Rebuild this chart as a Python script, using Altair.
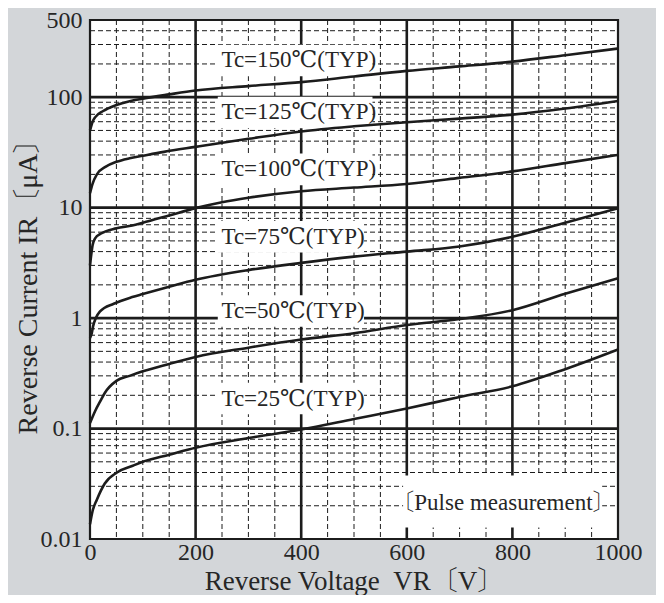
import altair as alt
import pandas as pd

# ---- curve data ----
volt_150 = [0, 5, 10, 25, 50, 75, 100, 150, 200, 300, 400, 500, 600, 700, 800, 900, 1000]
cur_150 = [50, 60, 66, 75, 85, 92, 97, 106, 115, 126, 137, 154, 173, 190, 210, 240, 276]

volt_125 = [0, 5, 13, 30, 50, 75, 100, 140, 200, 300, 400, 500, 600, 700, 800, 900, 1000]
cur_125 = [13.5, 16.5, 20, 23.5, 26, 28, 29.5, 32, 35.5, 42, 49, 54.5, 59.4, 64, 69.5, 79, 92.5]

volt_100 = [0, 5, 10, 20, 50, 80, 100, 150, 200, 250, 300, 400, 500, 600, 700, 800, 900, 1000]
cur_100 = [3.0, 4.6, 5.3, 5.8, 6.5, 6.9, 7.3, 8.5, 9.9, 11.2, 12.3, 14.1, 15.2, 16.4, 18.6, 21.3, 25.3, 30]

volt_75 = [0, 3, 6, 11, 19, 45, 80, 100, 150, 200, 300, 400, 500, 600, 700, 800, 900, 1000]
cur_75 = [0.66, 0.72, 0.85, 1.0, 1.15, 1.35, 1.55, 1.65, 1.92, 2.22, 2.72, 3.16, 3.6, 4.0, 4.45, 5.45, 7.3, 9.9]

volt_50 = [0, 5, 10, 19, 28, 50, 75, 100, 150, 200, 300, 400, 500, 600, 700, 800, 900, 1000]
cur_50 = [0.112, 0.128, 0.145, 0.175, 0.21, 0.27, 0.30, 0.33, 0.385, 0.445, 0.54, 0.64, 0.73, 0.865, 0.98, 1.18, 1.66, 2.3]

volt_25 = [0, 5, 13, 28, 51, 81, 100, 150, 200, 300, 400, 500, 600, 700, 800, 900, 1000]
cur_25 = [0.0136, 0.018, 0.0227, 0.0318, 0.040, 0.046, 0.050, 0.058, 0.067, 0.082, 0.098, 0.122, 0.152, 0.193, 0.241, 0.345, 0.52]

# ---- labels ----
tc_labels = ["Tc=150℃(TYP)", "Tc=125℃(TYP)", "Tc=100℃(TYP)", "Tc=75℃(TYP)", "Tc=50℃(TYP)", "Tc=25℃(TYP)"]
label_volt = [249, 249, 249, 249, 249, 249]
label_cur = [215, 72.8, 22.2, 5.46, 1.16, 0.187]

note_text = ["〔Pulse measurement〕"]
note_volt = [783]
note_cur = [0.0213]

# ---- axes / grid positions ----
x_ticks = [0, 200, 400, 600, 800, 1000]
y_ticks = [0.01, 0.1, 1, 10, 100, 500]
x_grid_major = [200, 400, 600, 800]
x_grid_minor = [50, 100, 150, 250, 300, 350, 450, 500, 550, 650, 700, 750, 850, 900, 950]
y_grid_major = [0.1, 1, 10, 100]
y_grid_minor = [0.02, 0.03, 0.04, 0.05, 0.06, 0.07, 0.08, 0.09,
                0.2, 0.3, 0.4, 0.5, 0.6, 0.7, 0.8, 0.9,
                2, 3, 4, 5, 6, 7, 8, 9,
                20, 30, 40, 50, 60, 70, 80, 90,
                200, 300, 400]

series = [("150", volt_150, cur_150), ("125", volt_125, cur_125), ("100", volt_100, cur_100),
          ("75", volt_75, cur_75), ("50", volt_50, cur_50), ("25", volt_25, cur_25)]
rows = []
for tc, vs, cs in series:
    for v, c in zip(vs, cs):
        rows.append({"tc": tc, "v": v, "i": c})
curves = pd.DataFrame(rows)
labels = pd.DataFrame({"text": tc_labels, "v": label_volt, "i": label_cur})
note = pd.DataFrame({"text": note_text, "v": note_volt, "i": note_cur})

W, H = 528, 519
FONT = "'Liberation Serif', 'DejaVu Serif', 'Noto Serif CJK JP', 'Noto Sans CJK JP', serif"
INK = "#262626"
LINE = "#1c1c1c"

xs = alt.Scale(domain=[0, 1000], nice=False, zero=False)
ys = alt.Scale(type="log", domain=[0.01, 500], nice=False)

x_axis = alt.Axis(values=x_ticks, format="d", grid=False, ticks=False, tickSize=0, domain=False,
                  labelFont=FONT, labelFontSize=24, labelColor=INK, labelPadding=1,
                  labelFlush=False, labelOverlap=False,
                  title="Reverse Voltage\u00a0\u00a0VR〔V〕", titleFont=FONT, titleFontSize=27,
                  titleFontWeight="normal", titleColor=INK, titleY=50, titleBaseline="alphabetic")
y_axis = alt.Axis(values=y_ticks, format="~g", grid=False, ticks=False, tickSize=0, domain=False,
                  labelFont=FONT, labelFontSize=24, labelColor=INK, labelPadding=8,
                  labelFlush=False, labelOverlap=False,
                  title="Reverse Current IR〔μA〕", titleFont=FONT, titleFontSize=28,
                  titleFontWeight="normal", titleColor=INK, titleX=-62, titleBaseline="middle",
                  titleAngle=270)

X = lambda f="v": alt.X(f"{f}:Q", scale=xs, axis=x_axis)
Y = lambda f="i": alt.Y(f"{f}:Q", scale=ys, axis=y_axis)

v_minor = alt.Chart(pd.DataFrame({"v": x_grid_minor})).mark_rule(
    color=LINE, strokeWidth=1, strokeDash=[5, 3]).encode(x=X(), y=alt.value(0), y2=alt.value(H))
h_minor = alt.Chart(pd.DataFrame({"i": y_grid_minor})).mark_rule(
    color=LINE, strokeWidth=1, strokeDash=[5, 3]).encode(y=Y(), x=alt.value(0), x2=alt.value(W))
v_major = alt.Chart(pd.DataFrame({"v": x_grid_major})).mark_rule(
    color=LINE, strokeWidth=2.6).encode(x=X(), y=alt.value(0), y2=alt.value(H))
h_major = alt.Chart(pd.DataFrame({"i": y_grid_major})).mark_rule(
    color=LINE, strokeWidth=2.8).encode(y=Y(), x=alt.value(0), x2=alt.value(W))

label_boxes = alt.Chart(labels).transform_calculate(
    x1="datum.v - 7",
    x2="datum.v + (length(datum.text) > 11 ? 286 : 270)",
    y1="datum.i / 1.39",
    y2="datum.i * 1.39",
).mark_rect(color="white").encode(
    x=X("x1"), x2="x2:Q", y=Y("y1"), y2="y2:Q")

note_box = alt.Chart(note).transform_calculate(
    x1="datum.v - 190", x2="datum.v + 187", y1="datum.i / 1.68", y2="datum.i * 1.76"
).mark_rect(color="white").encode(x=X("x1"), x2="x2:Q", y=Y("y1"), y2="y2:Q")

lines = alt.Chart(curves).mark_line(color=LINE, strokeWidth=2.6, interpolate="monotone").encode(
    x=X(), y=Y(), detail="tc:N", order="v:Q")

label_text = alt.Chart(labels).mark_text(
    align="left", baseline="middle", font=FONT, fontSize=23, color=INK).encode(
    x=X(), y=Y(), text="text:N")

note_label = alt.Chart(note).mark_text(
    align="center", baseline="middle", font=FONT, fontSize=23, color=INK).encode(
    x=X(), y=Y(), text="text:N")

chart = alt.layer(v_minor, h_minor, v_major, h_major, label_boxes, note_box,
                  lines, label_text, note_label).properties(
    width=W, height=H,
    autosize=alt.AutoSizeParams(type="none"),
    padding={"left": 82, "top": 12, "right": 38, "bottom": 56},
    background="#d3d6d9",
).configure_view(fill="white", stroke=LINE, strokeWidth=2.2)

chart.save("out.html", embed_options={"renderer": "svg", "actions": False})
